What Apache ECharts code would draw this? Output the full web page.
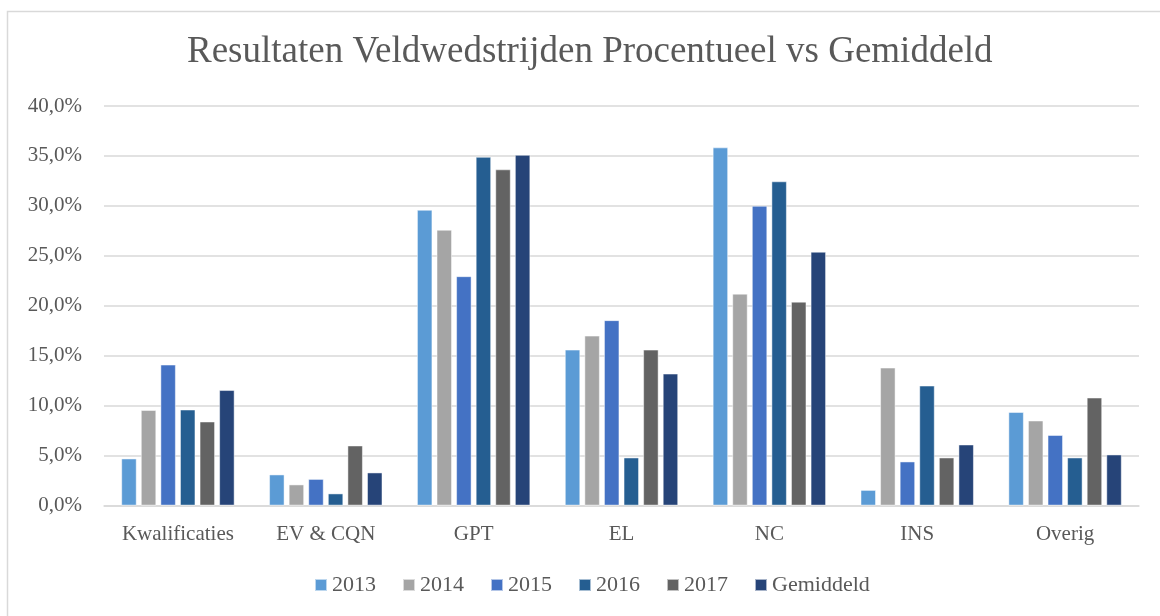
<!DOCTYPE html>
<html>
<head>
<meta charset="utf-8">
<script src="https://cdn.jsdelivr.net/npm/echarts@6/dist/echarts.min.js"></script>
<style>html,body{margin:0;padding:0;background:#fff;}#c{width:1160px;height:616px;}</style>
</head>
<body>
<div id="c"></div>
<script>
const categories = ['Kwalificaties', 'EV & CQN', 'GPT', 'EL', 'NC', 'INS', 'Overig'];
const s2013 = [4.7, 3.1, 29.6, 15.6, 35.85, 1.55, 9.35];
const s2014 = [9.55, 2.1, 27.6, 17.0, 21.2, 13.8, 8.5];
const s2015 = [14.1, 2.65, 22.95, 18.55, 30.0, 4.4, 7.05];
const s2016 = [9.6, 1.2, 34.9, 4.8, 32.45, 12.0, 4.8];
const s2017 = [8.4, 6.0, 33.65, 15.6, 20.4, 4.8, 10.8];
const sGem = [11.55, 3.3, 35.1, 13.2, 25.4, 6.1, 5.1];
const seriesNames = ['2013', '2014', '2015', '2016', '2017', 'Gemiddeld'];
const seriesData = [s2013, s2014, s2015, s2016, s2017, sGem];
const colors = ['#5B9BD5', '#A5A5A5', '#4472C4', '#255E91', '#636363', '#264478'];

const font = '"Liberation Serif", "DejaVu Serif", serif';
const chart = echarts.init(document.getElementById('c'), null, {renderer: 'canvas'});
chart.setOption({
  animation: false,
  color: colors,
  title: {
    text: 'Resultaten Veldwedstrijden Procentueel vs Gemiddeld',
    left: 182, top: 29,
    textStyle: {fontFamily: font, fontSize: 37, fontWeight: 'normal', color: '#595959'}
  },
  graphic: [{
    type: 'polyline', silent: true,
    shape: {points: [[7.5, 616], [7.5, 11.5], [1160, 11.5]]},
    style: {stroke: '#D9D9D9', lineWidth: 1.5, fill: null}
  }],
  legend: {
    bottom: 15, left: 309,
    itemWidth: 12, itemHeight: 12, itemGap: 26,
    icon: 'rect',
    textStyle: {fontFamily: font, fontSize: 22, color: '#595959'},
    data: seriesNames
  },
  grid: {left: 104, right: 21, top: 106, bottom: 110.5},
  xAxis: {
    type: 'category', data: categories,
    axisLine: {lineStyle: {color: '#D9D9D9', width: 1.5}},
    axisTick: {show: false},
    axisLabel: {fontFamily: font, fontSize: 21, color: '#595959', margin: 18, interval: 0}
  },
  yAxis: {
    type: 'value', min: 0, max: 40, interval: 5,
    axisLine: {show: false}, axisTick: {show: false},
    splitLine: {lineStyle: {color: '#D9D9D9', width: 1.5}},
    axisLabel: {
      fontFamily: font, fontSize: 21, color: '#595959', margin: 22,
      formatter: v => v.toFixed(1).replace('.', ',') + '%'
    }
  },
  series: seriesNames.map((n, i) => ({
    name: n, type: 'bar', data: seriesData[i],
    barWidth: 15.3, barGap: '28%',
    itemStyle: {color: colors[i], borderColor: 'rgba(255,255,255,0.6)', borderWidth: 0.8}
  }))
});
</script>
</body>
</html>
